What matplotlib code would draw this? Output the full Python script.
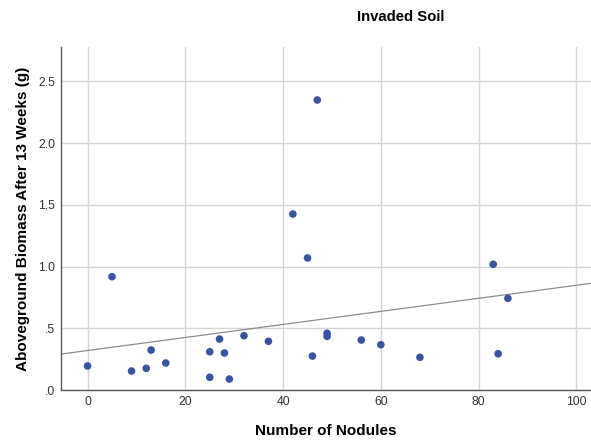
import matplotlib
matplotlib.use('Agg')
import matplotlib.pyplot as plt
import numpy as np

plt.rcParams['font.family'] = ['Liberation Sans', 'DejaVu Sans']

# nodule counts and biomass for each plant grown in invaded soil
nodules = [0, 5, 9, 12, 13, 16, 25, 25, 27, 28, 29, 32, 37, 42, 45, 46, 47,
           49, 49, 56, 60, 68, 83, 84, 86]
biomass = [0.195, 0.918, 0.154, 0.176, 0.324, 0.219, 0.31, 0.103, 0.413, 0.30,
           0.089, 0.44, 0.395, 1.426, 1.07, 0.275, 2.35, 0.46, 0.435, 0.405,
           0.367, 0.265, 1.019, 0.294, 0.743]

x_ticks = [0, 20, 40, 60, 80, 100]
y_ticks = [0.0, 0.5, 1.0, 1.5, 2.0, 2.5]
y_tick_labels = ['.0', '.5', '1.0', '1.5', '2.0', '2.5']

fig = plt.figure(figsize=(5.91, 4.42), dpi=100)
ax = fig.add_axes([0.1027, 0.1176, 0.8973, 0.7754])

xlim = (-5.5, 103)
ax.set_xlim(*xlim)
ax.set_ylim(0, 2.777)

ax.set_xticks(x_ticks)
ax.set_yticks(y_ticks)
ax.set_yticklabels(y_tick_labels)
ax.grid(True, color='#d4d4d4', linewidth=1.0)
ax.set_axisbelow(True)

# linear fit
slope, intercept = np.polyfit(nodules, biomass, 1)
xs = np.array(xlim)
ax.plot(xs, intercept + slope * xs, color='#8c8c8c', linewidth=0.9, zorder=2)

ax.scatter(nodules, biomass, s=30, color='#3953a4', edgecolors='none', zorder=3)

for side in ['top', 'right']:
    ax.spines[side].set_visible(False)
for side in ['left', 'bottom']:
    ax.spines[side].set_color('#5a5a5a')
    ax.spines[side].set_linewidth(1.0)

ax.tick_params(length=0, labelsize=8.8, colors='#333333')
ax.tick_params(axis='x', pad=4.5)
ax.tick_params(axis='y', pad=4)

ax.set_xlabel('Number of Nodules', fontsize=11, fontweight='bold', labelpad=11)
ax.set_ylabel('Aboveground Biomass After 13 Weeks (g)', fontsize=11,
              fontweight='bold', labelpad=6)

fig.text(0.678, 0.962, 'Invaded Soil', ha='center', va='center',
         fontsize=10.7, fontweight='bold')

fig.savefig('out.png', dpi=100)
